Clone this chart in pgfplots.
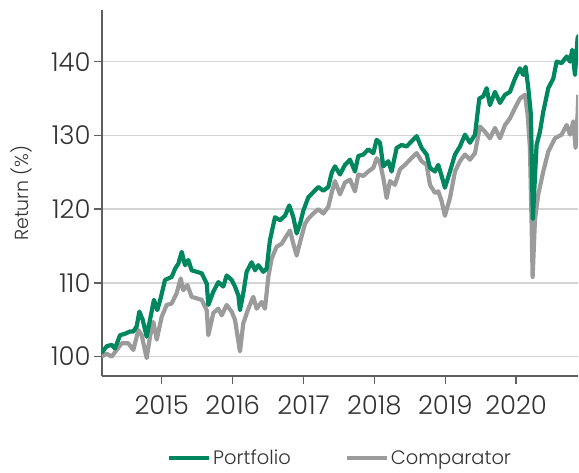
\documentclass[border=0pt]{standalone}
\usepackage{fontspec}
\setmainfont{Poppins Light}
\usepackage{pgfplots}
\usepackage{pgfplotstable}
\pgfplotsset{compat=1.18}
\definecolor{pgreen}{RGB}{0,135,95}
\definecolor{cgray}{RGB}{155,155,155}
\definecolor{gridgray}{RGB}{212,212,212}
\definecolor{axgray}{RGB}{95,95,95}
\pgfplotstableread{
x y
2014.153 100.5
2014.224 101.4
2014.294 101.6
2014.341 101.1
2014.412 102.9
2014.482 103.1
2014.553 103.4
2014.600 103.4
2014.647 104.1
2014.685 106.1
2014.732 105.0
2014.788 102.7
2014.835 105.0
2014.891 107.7
2014.938 106.3
2014.985 107.9
2015.047 110.4
2015.094 110.6
2015.141 110.8
2015.188 111.9
2015.235 112.6
2015.282 114.2
2015.329 112.4
2015.376 113.1
2015.423 111.7
2015.494 111.5
2015.564 111.3
2015.635 109.9
2015.658 107.0
2015.728 108.8
2015.799 110.1
2015.869 109.5
2015.916 111.0
2015.987 110.4
2016.034 109.5
2016.081 108.3
2016.104 106.3
2016.151 108.6
2016.198 111.5
2016.269 112.8
2016.316 111.7
2016.363 112.4
2016.433 111.5
2016.480 111.9
2016.527 115.8
2016.598 118.9
2016.668 118.5
2016.739 119.1
2016.800 120.5
2016.857 118.9
2016.904 116.7
2016.951 118.0
2016.998 119.8
2017.068 121.6
2017.139 122.3
2017.209 123.0
2017.280 122.5
2017.350 123.0
2017.400 125.0
2017.444 125.8
2017.515 124.7
2017.585 126.0
2017.656 126.7
2017.726 125.1
2017.773 127.2
2017.844 127.4
2017.914 128.1
2017.985 127.6
2018.032 129.4
2018.079 129.0
2018.126 125.8
2018.196 126.5
2018.243 125.1
2018.314 128.3
2018.384 128.7
2018.455 128.5
2018.525 129.2
2018.596 129.9
2018.666 128.3
2018.737 127.4
2018.784 125.6
2018.854 125.1
2018.901 126.0
2018.948 124.5
2018.995 122.9
2019.066 125.1
2019.137 127.4
2019.207 128.5
2019.278 130.1
2019.348 129.0
2019.419 130.1
2019.480 135.0
2019.536 135.3
2019.583 136.4
2019.630 134.1
2019.701 135.9
2019.771 134.4
2019.842 135.5
2019.912 135.9
2019.983 137.7
2020.053 139.1
2020.100 138.2
2020.133 139.3
2020.171 136.4
2020.208 132.8
2020.235 118.7
2020.288 128.7
2020.335 130.5
2020.382 133.2
2020.453 136.4
2020.523 137.7
2020.571 140.0
2020.641 139.8
2020.712 140.7
2020.759 140.0
2020.791 141.6
2020.829 138.2
2020.866 143.2
2020.885 143.6
}\portfolio
\pgfplotstableread{
x y
2014.153 100.0
2014.224 100.4
2014.294 100.0
2014.365 100.9
2014.435 101.8
2014.529 101.8
2014.600 100.9
2014.671 103.6
2014.718 102.9
2014.788 99.8
2014.835 102.7
2014.882 104.7
2014.930 102.3
2015.000 105.4
2015.070 107.0
2015.141 107.2
2015.211 108.6
2015.268 110.6
2015.305 109.0
2015.362 109.7
2015.423 108.1
2015.494 107.9
2015.564 107.7
2015.635 106.3
2015.658 102.9
2015.728 105.9
2015.799 106.5
2015.846 105.6
2015.916 107.0
2015.987 106.1
2016.034 105.0
2016.104 100.7
2016.151 104.5
2016.222 106.5
2016.292 108.1
2016.339 106.5
2016.410 107.4
2016.457 106.5
2016.504 110.8
2016.551 113.3
2016.621 114.9
2016.692 115.3
2016.762 116.4
2016.810 117.1
2016.857 115.3
2016.904 113.7
2016.951 115.5
2017.021 118.0
2017.068 118.7
2017.139 119.4
2017.209 120.0
2017.280 119.4
2017.350 120.3
2017.400 122.3
2017.444 123.8
2017.515 122.0
2017.585 123.6
2017.656 124.0
2017.726 122.4
2017.773 124.7
2017.844 124.5
2017.914 125.1
2017.985 125.6
2018.032 126.9
2018.079 126.3
2018.126 124.2
2018.173 121.5
2018.220 123.8
2018.290 123.3
2018.361 125.4
2018.431 126.0
2018.502 126.7
2018.596 127.6
2018.666 126.5
2018.737 126.0
2018.784 123.3
2018.854 122.2
2018.901 122.4
2018.948 121.1
2018.995 119.1
2019.066 121.5
2019.137 125.1
2019.207 126.5
2019.278 127.4
2019.348 126.7
2019.419 127.6
2019.489 131.2
2019.560 130.5
2019.630 129.6
2019.701 131.0
2019.771 129.6
2019.842 131.4
2019.912 132.3
2019.983 133.7
2020.053 135.0
2020.124 135.5
2020.162 132.8
2020.194 128.3
2020.218 117.9
2020.232 110.8
2020.265 118.6
2020.312 122.0
2020.382 125.1
2020.453 127.8
2020.547 129.6
2020.641 130.1
2020.712 131.4
2020.759 130.1
2020.806 131.9
2020.838 128.3
2020.866 132.8
2020.876 135.5
}\comparator
\begin{document}
\begin{tikzpicture}
\begin{axis}[
  scale only axis, width=476bp, height=366bp,
  xmin=2014.158, xmax=2020.872, ymin=97.37, ymax=147,
  axis x line*=bottom, axis y line*=left,
  axis line style={axgray, line width=1.5bp},
  xtick={2015,2016,2017,2018,2019,2020},
  ytick={100,110,120,130,140},
  tick style={axgray, line width=1.5bp},
  tick align=outside, major tick length=8bp,
  /pgf/number format/assume math mode=true,
  x tick label style={/pgf/number format/1000 sep={}, yshift=-8bp},
  tick label style={font=\fontsize{26}{30}\selectfont, text=black!80},
  ymajorgrids, grid style={gridgray, line width=1.5bp},
  ylabel={Return (\%)},
  label style={font=\fontsize{19}{22}\selectfont},
  ylabel style={at={(axis description cs:-0.170,0.5)}, rotate=0, anchor=center, font=\fontsize{19}{22}\selectfont, text=black!80},
  legend style={at={(axis description cs:0.5,-0.224)}, anchor=center, draw=none, fill=none,
    font=\fontsize{19.5}{23}\selectfont, text=black!80,
    /tikz/every even column/.append style={column sep=52bp}},
  legend columns=2,
  legend image code/.code={\draw[#1] (0bp,0bp) -- (40bp,0bp);},
]
\addlegendimage{pgreen, line width=4.2bp}
\addlegendentry{Portfolio}
\addlegendimage{cgray, line width=4.2bp}
\addlegendentry{Comparator}
\addplot[cgray, line width=4.2bp, line join=round, forget plot] table[x=x,y=y] {\comparator};
\addplot[pgreen, line width=4.2bp, line join=round, forget plot] table[x=x,y=y] {\portfolio};
\coordinate (sw) at (rel axis cs:0,0);
\coordinate (ne) at (rel axis cs:1,1);
\end{axis}
\pgfresetboundingbox
\path[use as bounding box] ([shift={(-102bp,-97bp)}]sw) rectangle ([shift={(1bp,10bp)}]ne);
\end{tikzpicture}
\end{document}
